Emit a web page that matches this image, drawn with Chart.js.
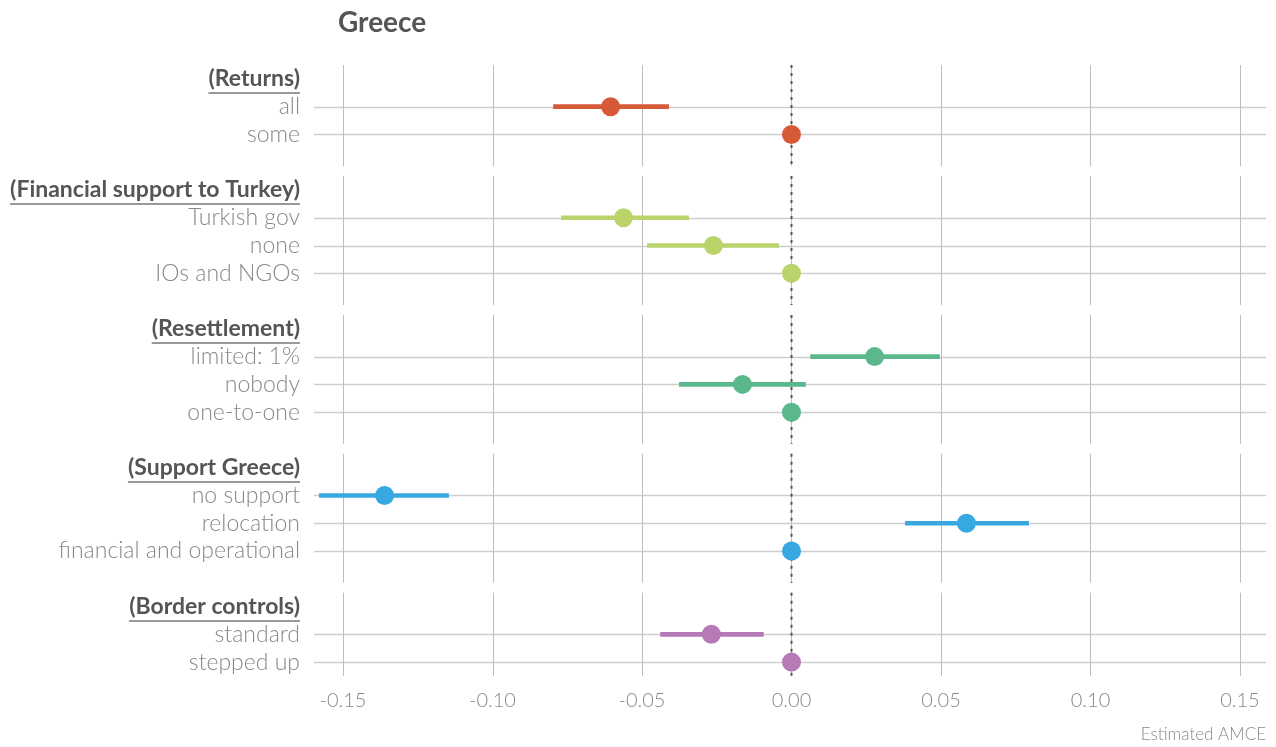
<!DOCTYPE html>
<html>
<head>
<meta charset="utf-8">
<script src="https://cdn.jsdelivr.net/npm/chart.js@4.4.0/dist/chart.umd.min.js"></script>
<style>
  html, body { margin: 0; padding: 0; background: #fff; }
  #wrap { width: 1276px; height: 747px; position: relative; }
</style>
</head>
<body>
<div id="wrap"><canvas id="amceChart"></canvas></div>
<script>
// attributes (facets) and their levels, top to bottom
var groups = ['Returns', 'Financial support to Turkey', 'Resettlement', 'Support Greece', 'Border controls'];
var levels = [
  ['all', 'some'],
  ['Turkish gov', 'none', 'IOs and NGOs'],
  ['limited: 1%', 'nobody', 'one-to-one'],
  ['no support', 'relocation', 'financial and operational'],
  ['standard', 'stepped up']
];
// estimated AMCE (reference level = 0)
var estimates = [
  [-0.0605, 0],
  [-0.0562, -0.0261, 0],
  [0.0278, -0.0164, 0],
  [-0.1361, 0.0585, 0],
  [-0.0268, 0]
];
// confidence intervals (none for the reference level)
var lower = [
  [-0.0796, null],
  [-0.0769, -0.0482, null],
  [0.0064, -0.0375, null],
  [-0.1579, 0.0381, null],
  [-0.0438, null]
];
var upper = [
  [-0.0411, null],
  [-0.0344, -0.0043, null],
  [0.0495, 0.0047, null],
  [-0.1147, 0.0793, null],
  [-0.0094, null]
];
var xTicks = [-0.15, -0.10, -0.05, 0, 0.05, 0.10, 0.15];

var groupColors = ['#d65a38', '#bad46b', '#5bb88d', '#38a9e0', '#b67ab6'];
var labelFont = 'Lato, "Open Sans", sans-serif';

// build the category axis: header, levels, spacer between facets
var labels = [], headerIdx = [], rowIdx = [];
var ciData = [], ciColors = [], points = [], pointColors = [];
groups.forEach(function (g, gi) {
  if (gi > 0) {
    labels.push('');
    ciData.push(null);
    ciColors.push('rgba(0,0,0,0)');
  }
  headerIdx.push(labels.length);
  labels.push('(' + g + ')');
  ciData.push(null);
  ciColors.push('rgba(0,0,0,0)');
  levels[gi].forEach(function (lv, li) {
    rowIdx.push(labels.length);
    labels.push(lv);
    ciData.push(lower[gi][li] === null ? null : [lower[gi][li], upper[gi][li]]);
    ciColors.push(groupColors[gi]);
    points.push({ x: estimates[gi][li], y: lv });
    pointColors.push(groupColors[gi]);
  });
});

function isHeader(i) { return headerIdx.indexOf(i) !== -1; }

// facet panels: grid lines, dotted zero line, header underline, title
var panelPlugin = {
  id: 'panels',
  beforeDatasetsDraw: function (chart) {
    var ctx = chart.ctx, area = chart.chartArea;
    var xs = chart.scales.x, ys = chart.scales.y;
    var step = ys.getPixelForValue(1) - ys.getPixelForValue(0);
    ctx.save();

    // horizontal lines at each level
    ctx.strokeStyle = '#cdcdcd';
    ctx.lineWidth = 1.5;
    rowIdx.forEach(function (i) {
      var y = Math.round(ys.getPixelForValue(i)) + 0.5;
      ctx.beginPath();
      ctx.moveTo(area.left, y);
      ctx.lineTo(area.right, y);
      ctx.stroke();
    });

    headerIdx.forEach(function (h, gi) {
      var top = ys.getPixelForValue(h) - step / 2;
      var bottom = gi < headerIdx.length - 1
        ? ys.getPixelForValue(headerIdx[gi + 1]) - step / 2 - 10
        : area.bottom;

      ctx.setLineDash([]);
      ctx.strokeStyle = '#bdbdbd';
      ctx.lineWidth = 1;
      xTicks.forEach(function (v) {
        var x = Math.round(xs.getPixelForValue(v)) + 0.5;
        ctx.beginPath();
        ctx.moveTo(x, top);
        ctx.lineTo(x, bottom);
        ctx.stroke();
      });

      ctx.setLineDash([3, 5]);
      ctx.strokeStyle = '#555';
      ctx.lineWidth = 2;
      var x0 = Math.round(xs.getPixelForValue(0)) + 0.5;
      ctx.beginPath();
      ctx.moveTo(x0, top);
      ctx.lineTo(x0, bottom);
      ctx.stroke();
    });
    ctx.restore();
  },
  afterDraw: function (chart) {
    var ctx = chart.ctx, area = chart.chartArea, ys = chart.scales.y;
    ctx.save();
    ctx.font = 'bold 23px ' + labelFont;
    ctx.fillStyle = '#999';
    headerIdx.forEach(function (h) {
      var y = ys.getPixelForValue(h);
      var w = ctx.measureText(labels[h]).width;
      var right = area.left - 14;
      ctx.fillRect(right - w, Math.round(y + 13), w, 2);
    });
    ctx.font = 'bold 28px ' + labelFont;
    ctx.fillStyle = '#555';
    ctx.textBaseline = 'middle';
    ctx.textAlign = 'left';
    ctx.fillText('Greece', 338, 23);
    ctx.restore();
  }
};

var ctx = document.getElementById('amceChart').getContext('2d');

var amceChart = new Chart(ctx, {
  type: 'bar',
  data: {
    labels: labels,
    datasets: [
      {
        type: 'scatter',
        data: points,
        backgroundColor: pointColors,
        borderColor: pointColors,
        pointRadius: 9.5,
        pointHoverRadius: 9.5,
        borderWidth: 0
      },
      {
        type: 'bar',
        data: ciData,
        backgroundColor: ciColors,
        barThickness: 4,
        borderWidth: 0,
        grouped: false
      }
    ]
  },
  options: {
    indexAxis: 'y',
    responsive: true,
    maintainAspectRatio: false,
    animation: false,
    layout: { padding: { top: 65, right: 10, left: 0, bottom: 0 } },
    plugins: {
      legend: { display: false },
      tooltip: { enabled: false },
      title: { display: false }
    },
    scales: {
      x: {
        type: 'linear',
        min: -0.1597,
        max: 0.1587,
        grid: { display: false, drawTicks: false },
        border: { display: false },
        ticks: {
          color: '#888',
          padding: 13,
          font: { family: labelFont, size: 20, weight: '300' },
          callback: function (v) { return v.toFixed(2); }
        },
        afterBuildTicks: function (scale) {
          scale.ticks = xTicks.map(function (v) { return { value: v }; });
        },
        afterFit: function (scale) { scale.height = 71; },
        title: {
          display: true,
          text: 'Estimated AMCE',
          align: 'end',
          color: '#888',
          font: { family: labelFont, size: 17, weight: '300' },
          padding: { top: 0, bottom: 2 }
        }
      },
      y: {
        type: 'category',
        offset: true,
        grid: { display: false, drawTicks: false },
        border: { display: false },
        ticks: {
          autoSkip: false,
          padding: 14,
          color: function (c) { return isHeader(c.index) ? '#555' : '#888'; },
          font: function (c) {
            return isHeader(c.index)
              ? { family: labelFont, size: 23, weight: 'bold' }
              : { family: labelFont, size: 23, weight: '300' };
          }
        },
        afterFit: function (scale) { scale.width = 314; }
      }
    }
  },
  plugins: [panelPlugin]
});
</script>
</body>
</html>
